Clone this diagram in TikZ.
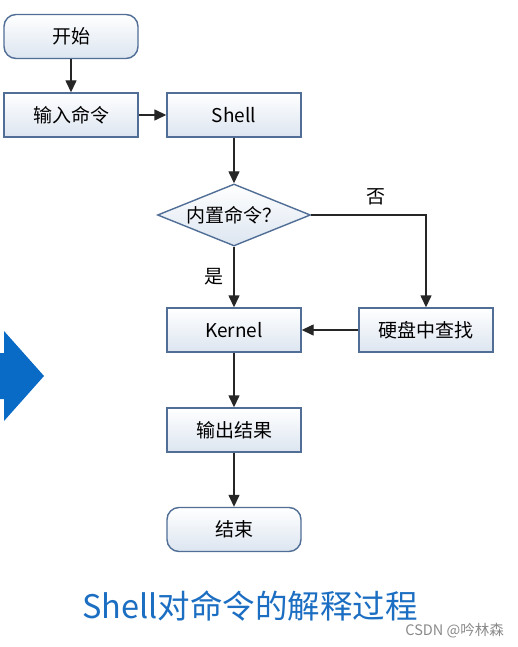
\documentclass[tikz,border=0pt]{standalone}
\usepackage{fontspec}
\setmainfont{Noto Sans CJK SC}
\usetikzlibrary{shapes.geometric,arrows.meta}
\definecolor{boxline}{HTML}{506E96}
\definecolor{boxbot}{HTML}{DCE5F0}
\definecolor{titleblue}{HTML}{1B6EC2}
\definecolor{bigarrow}{HTML}{0A6BC6}
\definecolor{wm}{HTML}{8A8A8A}
\begin{document}
\begin{tikzpicture}[x=1pt,y=-1pt,
  box/.style={draw=boxline,line width=1.4pt,top color=white,bottom color=boxbot,
    minimum width=134pt,minimum height=44pt,inner sep=0pt,font=\fontsize{19}{22}\selectfont},
  term/.style={box,rounded corners=12pt},
  dec/.style={draw=boxline,line width=1.4pt,top color=white,bottom color=boxbot,
    shape=diamond,aspect=2.5,minimum width=153pt,minimum height=62pt,inner sep=0pt,
    font=\fontsize{19}{22}\selectfont},
  conn/.style={draw=black!85,line width=1.4pt,-{Triangle[length=12pt,width=11pt]}},
  lbl/.style={font=\fontsize{19}{22}\selectfont,inner sep=0pt}]
\useasboundingbox (0,0) rectangle (518,647);
\fill[white] (0,0) rectangle (518,647);

\node[term] (start) at (71,36.5) {开始};
\node[box] (input) at (71,115) {输入命令};
\node[box] (shell) at (234,115) {Shell};
\node[dec] (builtin) at (234,215) {内置命令？};
\node[box] (kernel) at (234,330) {Kernel};
\node[box] (disk) at (426,330) {硬盘中查找};
\node[box] (output) at (234,430) {输出结果};
\node[term] (end) at (234,529.5) {结束};

\coordinate (corner) at (disk.north |- builtin.east);

\draw[conn] (start) -- (input);
\draw[conn] (input) -- (shell);
\draw[conn] (shell) -- (builtin);
\draw[conn] (builtin) -- (kernel);
\draw[conn] (builtin.east) -- (corner) -- (disk.north);
\draw[conn] (disk) -- (kernel);
\draw[conn] (kernel) -- (output);
\draw[conn] (output) -- (end);

\node[lbl] (no) at (376,197) {否};
\node[lbl] (yes) at (214,277) {是};

\fill[bigarrow] (0,353) -- (4,353) -- (4,331) -- (44,376) -- (4,421) -- (4,399) -- (0,399) -- cycle;

\node[font=\fontsize{32.5}{36}\selectfont,text=titleblue,inner sep=0pt] (title) at (250,606) {Shell对命令的解释过程};
\node[font=\fontsize{14.5}{16}\selectfont,text=wm,inner sep=0pt,anchor=east] (mark) at (504,631) {CSDN @吟林森};
\end{tikzpicture}
\end{document}
